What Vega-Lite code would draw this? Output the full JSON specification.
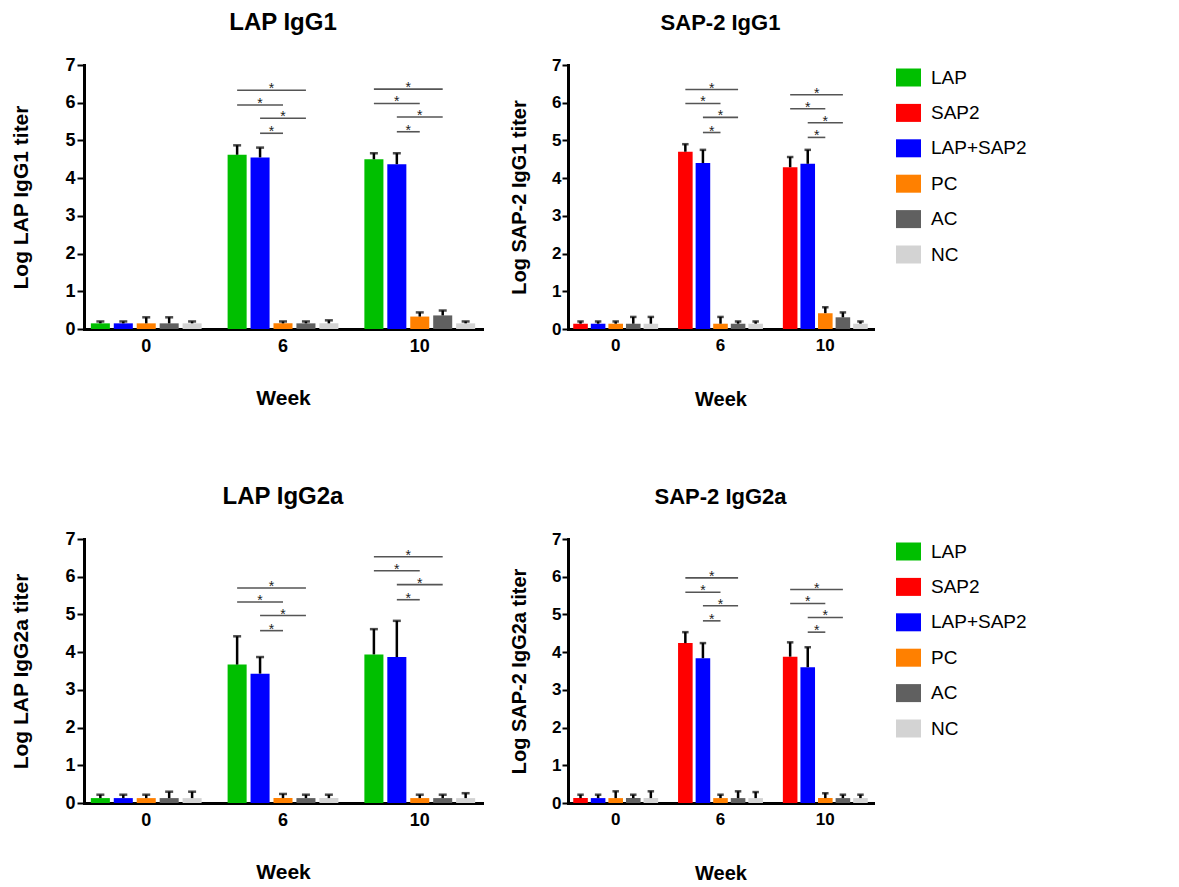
{
  "$schema": "https://vega.github.io/schema/vega-lite/v6.json",
  "padding": {"left": 10, "top": 11, "right": 5, "bottom": 5},
  "background": "white",
  "bounds": "flush",
  "columns": 2,
  "spacing": {"row": 210, "column": 86},
  "resolve": {"scale": {"color": "independent", "xOffset": "independent"}, "legend": {"color": "independent"}},
  "datasets": {
    "bars": [
      {"panel": "LAP IgG1", "week": "0", "group": "LAP", "mean": 0.15, "upper": 0.2},
      {"panel": "LAP IgG1", "week": "0", "group": "LAP+SAP2", "mean": 0.15, "upper": 0.2},
      {"panel": "LAP IgG1", "week": "0", "group": "PC", "mean": 0.15, "upper": 0.31},
      {"panel": "LAP IgG1", "week": "0", "group": "AC", "mean": 0.15, "upper": 0.31},
      {"panel": "LAP IgG1", "week": "0", "group": "NC", "mean": 0.15, "upper": 0.2},
      {"panel": "LAP IgG1", "week": "6", "group": "LAP", "mean": 4.62, "upper": 4.87},
      {"panel": "LAP IgG1", "week": "6", "group": "LAP+SAP2", "mean": 4.55, "upper": 4.81},
      {"panel": "LAP IgG1", "week": "6", "group": "PC", "mean": 0.15, "upper": 0.2},
      {"panel": "LAP IgG1", "week": "6", "group": "AC", "mean": 0.15, "upper": 0.2},
      {"panel": "LAP IgG1", "week": "6", "group": "NC", "mean": 0.15, "upper": 0.23},
      {"panel": "LAP IgG1", "week": "10", "group": "LAP", "mean": 4.5, "upper": 4.66},
      {"panel": "LAP IgG1", "week": "10", "group": "LAP+SAP2", "mean": 4.37, "upper": 4.66},
      {"panel": "LAP IgG1", "week": "10", "group": "PC", "mean": 0.33, "upper": 0.44},
      {"panel": "LAP IgG1", "week": "10", "group": "AC", "mean": 0.36, "upper": 0.49},
      {"panel": "LAP IgG1", "week": "10", "group": "NC", "mean": 0.15, "upper": 0.2},

      {"panel": "SAP-2 IgG1", "week": "0", "group": "SAP2", "mean": 0.14, "upper": 0.2},
      {"panel": "SAP-2 IgG1", "week": "0", "group": "LAP+SAP2", "mean": 0.14, "upper": 0.2},
      {"panel": "SAP-2 IgG1", "week": "0", "group": "PC", "mean": 0.14, "upper": 0.2},
      {"panel": "SAP-2 IgG1", "week": "0", "group": "AC", "mean": 0.14, "upper": 0.32},
      {"panel": "SAP-2 IgG1", "week": "0", "group": "NC", "mean": 0.14, "upper": 0.32},
      {"panel": "SAP-2 IgG1", "week": "6", "group": "SAP2", "mean": 4.7, "upper": 4.9},
      {"panel": "SAP-2 IgG1", "week": "6", "group": "LAP+SAP2", "mean": 4.4, "upper": 4.75},
      {"panel": "SAP-2 IgG1", "week": "6", "group": "PC", "mean": 0.14, "upper": 0.32},
      {"panel": "SAP-2 IgG1", "week": "6", "group": "AC", "mean": 0.14, "upper": 0.2},
      {"panel": "SAP-2 IgG1", "week": "6", "group": "NC", "mean": 0.14, "upper": 0.2},
      {"panel": "SAP-2 IgG1", "week": "10", "group": "SAP2", "mean": 4.29, "upper": 4.56},
      {"panel": "SAP-2 IgG1", "week": "10", "group": "LAP+SAP2", "mean": 4.38, "upper": 4.75},
      {"panel": "SAP-2 IgG1", "week": "10", "group": "PC", "mean": 0.42, "upper": 0.58},
      {"panel": "SAP-2 IgG1", "week": "10", "group": "AC", "mean": 0.31, "upper": 0.44},
      {"panel": "SAP-2 IgG1", "week": "10", "group": "NC", "mean": 0.14, "upper": 0.2},

      {"panel": "LAP IgG2a", "week": "0", "group": "LAP", "mean": 0.13, "upper": 0.22},
      {"panel": "LAP IgG2a", "week": "0", "group": "LAP+SAP2", "mean": 0.13, "upper": 0.22},
      {"panel": "LAP IgG2a", "week": "0", "group": "PC", "mean": 0.13, "upper": 0.22},
      {"panel": "LAP IgG2a", "week": "0", "group": "AC", "mean": 0.13, "upper": 0.3},
      {"panel": "LAP IgG2a", "week": "0", "group": "NC", "mean": 0.13, "upper": 0.3},
      {"panel": "LAP IgG2a", "week": "6", "group": "LAP", "mean": 3.67, "upper": 4.42},
      {"panel": "LAP IgG2a", "week": "6", "group": "LAP+SAP2", "mean": 3.43, "upper": 3.87},
      {"panel": "LAP IgG2a", "week": "6", "group": "PC", "mean": 0.13, "upper": 0.24},
      {"panel": "LAP IgG2a", "week": "6", "group": "AC", "mean": 0.13, "upper": 0.22},
      {"panel": "LAP IgG2a", "week": "6", "group": "NC", "mean": 0.13, "upper": 0.22},
      {"panel": "LAP IgG2a", "week": "10", "group": "LAP", "mean": 3.94, "upper": 4.61},
      {"panel": "LAP IgG2a", "week": "10", "group": "LAP+SAP2", "mean": 3.87, "upper": 4.83},
      {"panel": "LAP IgG2a", "week": "10", "group": "PC", "mean": 0.13, "upper": 0.22},
      {"panel": "LAP IgG2a", "week": "10", "group": "AC", "mean": 0.13, "upper": 0.22},
      {"panel": "LAP IgG2a", "week": "10", "group": "NC", "mean": 0.13, "upper": 0.26},

      {"panel": "SAP-2 IgG2a", "week": "0", "group": "SAP2", "mean": 0.13, "upper": 0.22},
      {"panel": "SAP-2 IgG2a", "week": "0", "group": "LAP+SAP2", "mean": 0.13, "upper": 0.22},
      {"panel": "SAP-2 IgG2a", "week": "0", "group": "PC", "mean": 0.13, "upper": 0.31},
      {"panel": "SAP-2 IgG2a", "week": "0", "group": "AC", "mean": 0.13, "upper": 0.22},
      {"panel": "SAP-2 IgG2a", "week": "0", "group": "NC", "mean": 0.13, "upper": 0.31},
      {"panel": "SAP-2 IgG2a", "week": "6", "group": "SAP2", "mean": 4.24, "upper": 4.53},
      {"panel": "SAP-2 IgG2a", "week": "6", "group": "LAP+SAP2", "mean": 3.84, "upper": 4.24},
      {"panel": "SAP-2 IgG2a", "week": "6", "group": "PC", "mean": 0.13, "upper": 0.22},
      {"panel": "SAP-2 IgG2a", "week": "6", "group": "AC", "mean": 0.13, "upper": 0.31},
      {"panel": "SAP-2 IgG2a", "week": "6", "group": "NC", "mean": 0.13, "upper": 0.29},
      {"panel": "SAP-2 IgG2a", "week": "10", "group": "SAP2", "mean": 3.88, "upper": 4.26},
      {"panel": "SAP-2 IgG2a", "week": "10", "group": "LAP+SAP2", "mean": 3.6, "upper": 4.13},
      {"panel": "SAP-2 IgG2a", "week": "10", "group": "PC", "mean": 0.13, "upper": 0.26},
      {"panel": "SAP-2 IgG2a", "week": "10", "group": "AC", "mean": 0.13, "upper": 0.22},
      {"panel": "SAP-2 IgG2a", "week": "10", "group": "NC", "mean": 0.13, "upper": 0.22}
    ],
    "brackets": [
      {"panel": "LAP IgG1", "week": "6", "from": "LAP", "to": "AC", "level": 6.33, "mid": "LAP+SAP2", "half": true},
      {"panel": "LAP IgG1", "week": "6", "from": "LAP", "to": "PC", "level": 5.94, "mid": "LAP+SAP2", "half": false},
      {"panel": "LAP IgG1", "week": "6", "from": "LAP+SAP2", "to": "AC", "level": 5.59, "mid": "PC", "half": false},
      {"panel": "LAP IgG1", "week": "6", "from": "LAP+SAP2", "to": "PC", "level": 5.19, "mid": "LAP+SAP2", "half": true},
      {"panel": "LAP IgG1", "week": "10", "from": "LAP", "to": "AC", "level": 6.36, "mid": "LAP+SAP2", "half": true},
      {"panel": "LAP IgG1", "week": "10", "from": "LAP", "to": "PC", "level": 5.98, "mid": "LAP+SAP2", "half": false},
      {"panel": "LAP IgG1", "week": "10", "from": "LAP+SAP2", "to": "AC", "level": 5.62, "mid": "PC", "half": false},
      {"panel": "LAP IgG1", "week": "10", "from": "LAP+SAP2", "to": "PC", "level": 5.23, "mid": "LAP+SAP2", "half": true},

      {"panel": "SAP-2 IgG1", "week": "6", "from": "SAP2", "to": "AC", "level": 6.35, "mid": "LAP+SAP2", "half": true},
      {"panel": "SAP-2 IgG1", "week": "6", "from": "SAP2", "to": "PC", "level": 5.98, "mid": "LAP+SAP2", "half": false},
      {"panel": "SAP-2 IgG1", "week": "6", "from": "LAP+SAP2", "to": "AC", "level": 5.61, "mid": "PC", "half": false},
      {"panel": "SAP-2 IgG1", "week": "6", "from": "LAP+SAP2", "to": "PC", "level": 5.21, "mid": "LAP+SAP2", "half": true},
      {"panel": "SAP-2 IgG1", "week": "10", "from": "SAP2", "to": "AC", "level": 6.21, "mid": "LAP+SAP2", "half": true},
      {"panel": "SAP-2 IgG1", "week": "10", "from": "SAP2", "to": "PC", "level": 5.84, "mid": "LAP+SAP2", "half": false},
      {"panel": "SAP-2 IgG1", "week": "10", "from": "LAP+SAP2", "to": "AC", "level": 5.47, "mid": "PC", "half": false},
      {"panel": "SAP-2 IgG1", "week": "10", "from": "LAP+SAP2", "to": "PC", "level": 5.08, "mid": "LAP+SAP2", "half": true},

      {"panel": "LAP IgG2a", "week": "6", "from": "LAP", "to": "AC", "level": 5.7, "mid": "LAP+SAP2", "half": true},
      {"panel": "LAP IgG2a", "week": "6", "from": "LAP", "to": "PC", "level": 5.33, "mid": "LAP+SAP2", "half": false},
      {"panel": "LAP IgG2a", "week": "6", "from": "LAP+SAP2", "to": "AC", "level": 4.97, "mid": "PC", "half": false},
      {"panel": "LAP IgG2a", "week": "6", "from": "LAP+SAP2", "to": "PC", "level": 4.57, "mid": "LAP+SAP2", "half": true},
      {"panel": "LAP IgG2a", "week": "10", "from": "LAP", "to": "AC", "level": 6.53, "mid": "LAP+SAP2", "half": true},
      {"panel": "LAP IgG2a", "week": "10", "from": "LAP", "to": "PC", "level": 6.16, "mid": "LAP+SAP2", "half": false},
      {"panel": "LAP IgG2a", "week": "10", "from": "LAP+SAP2", "to": "AC", "level": 5.79, "mid": "PC", "half": false},
      {"panel": "LAP IgG2a", "week": "10", "from": "LAP+SAP2", "to": "PC", "level": 5.39, "mid": "LAP+SAP2", "half": true},

      {"panel": "SAP-2 IgG2a", "week": "6", "from": "SAP2", "to": "AC", "level": 5.97, "mid": "LAP+SAP2", "half": true},
      {"panel": "SAP-2 IgG2a", "week": "6", "from": "SAP2", "to": "PC", "level": 5.59, "mid": "LAP+SAP2", "half": false},
      {"panel": "SAP-2 IgG2a", "week": "6", "from": "LAP+SAP2", "to": "AC", "level": 5.23, "mid": "PC", "half": false},
      {"panel": "SAP-2 IgG2a", "week": "6", "from": "LAP+SAP2", "to": "PC", "level": 4.83, "mid": "LAP+SAP2", "half": true},
      {"panel": "SAP-2 IgG2a", "week": "10", "from": "SAP2", "to": "AC", "level": 5.66, "mid": "LAP+SAP2", "half": true},
      {"panel": "SAP-2 IgG2a", "week": "10", "from": "SAP2", "to": "PC", "level": 5.29, "mid": "LAP+SAP2", "half": false},
      {"panel": "SAP-2 IgG2a", "week": "10", "from": "LAP+SAP2", "to": "AC", "level": 4.92, "mid": "PC", "half": false},
      {"panel": "SAP-2 IgG2a", "week": "10", "from": "LAP+SAP2", "to": "PC", "level": 4.53, "mid": "LAP+SAP2", "half": true}
    ]
  },
  "concat": [
    {
      "width": 398, "height": 264,
      "title": {"text": "LAP IgG1"},
      "encoding": {
        "x": {"field": "week", "type": "ordinal", "sort": ["0", "6", "10"], "title": "Week", "scale": {"paddingInner": 0.19, "paddingOuter": 0.05}}
      },
      "layer": [
        {"data": {"name": "bars"}, "transform": [{"filter": "datum.panel === 'LAP IgG1'"}],
         "mark": {"type": "bar"},
         "encoding": {
           "xOffset": {"field": "group", "type": "nominal", "scale": {"domain": ["LAP", "LAP+SAP2", "PC", "AC", "NC"], "paddingInner": 0.17, "paddingOuter": 0}},
           "y": {"field": "mean", "type": "quantitative", "title": "Log LAP IgG1 titer", "scale": {"domain": [0, 7], "nice": false}},
           "color": {"field": "group", "type": "nominal", "scale": {"domain": ["LAP", "SAP2", "LAP+SAP2", "PC", "AC", "NC"], "range": ["#00bf00", "#ff0000", "#0000ff", "#ff8000", "#606060", "#d3d3d3"]}, "legend": null}
         }},
        {"data": {"name": "bars"}, "transform": [{"filter": "datum.panel === 'LAP IgG1'"}],
         "mark": {"type": "rule", "color": "#000000", "strokeWidth": 2.5},
         "encoding": {
           "xOffset": {"field": "group", "type": "nominal", "scale": {"domain": ["LAP", "LAP+SAP2", "PC", "AC", "NC"]}},
           "y": {"field": "mean", "type": "quantitative", "title": "Log LAP IgG1 titer"}, "y2": {"field": "upper"}}},
        {"data": {"name": "bars"}, "transform": [{"filter": "datum.panel === 'LAP IgG1'"}],
         "mark": {"type": "tick", "color": "#000000", "thickness": 2.5, "size": 8, "orient": "horizontal"},
         "encoding": {
           "xOffset": {"field": "group", "type": "nominal", "scale": {"domain": ["LAP", "LAP+SAP2", "PC", "AC", "NC"]}},
           "y": {"field": "upper", "type": "quantitative", "title": "Log LAP IgG1 titer"}}},
        {"data": {"name": "brackets"}, "transform": [{"filter": "datum.panel === 'LAP IgG1'"}, {"fold": ["from", "to"], "as": ["end", "group"]}],
         "mark": {"type": "line", "color": "#555555", "strokeWidth": 1.6},
         "encoding": {
           "xOffset": {"field": "group", "type": "nominal", "scale": {"domain": ["LAP", "LAP+SAP2", "PC", "AC", "NC"]}},
           "y": {"field": "level", "type": "quantitative", "title": "Log LAP IgG1 titer"}, "detail": [{"field": "week"}, {"field": "level"}]}},
        {"data": {"name": "brackets"}, "transform": [{"filter": "datum.panel === 'LAP IgG1' && !datum.half"}],
         "mark": {"type": "text", "text": "*", "fontSize": 14, "baseline": "alphabetic", "dy": 3, "color": "#222222"},
         "encoding": {
           "xOffset": {"field": "mid", "type": "nominal", "scale": {"domain": ["LAP", "LAP+SAP2", "PC", "AC", "NC"]}},
           "y": {"field": "level", "type": "quantitative", "title": "Log LAP IgG1 titer"}}},
        {"data": {"name": "brackets"}, "transform": [{"filter": "datum.panel === 'LAP IgG1' && datum.half"}],
         "mark": {"type": "text", "text": "*", "fontSize": 14, "baseline": "alphabetic", "dy": 3, "dx": 11.4, "color": "#222222"},
         "encoding": {
           "xOffset": {"field": "mid", "type": "nominal", "scale": {"domain": ["LAP", "LAP+SAP2", "PC", "AC", "NC"]}},
           "y": {"field": "level", "type": "quantitative", "title": "Log LAP IgG1 titer"}}}
      ]
    },
    {
      "width": 305, "height": 264,
      "title": {"text": "SAP-2 IgG1", "fontSize": 22},
      "encoding": {
        "x": {"field": "week", "type": "ordinal", "sort": ["0", "6", "10"], "title": "Week", "scale": {"paddingInner": 0.19, "paddingOuter": 0.05}, "axis": {"labelFontSize": 17, "titleFontSize": 20, "titlePadding": 36}}
      },
      "layer": [
        {"data": {"name": "bars"}, "transform": [{"filter": "datum.panel === 'SAP-2 IgG1'"}],
         "mark": {"type": "bar"},
         "encoding": {
           "xOffset": {"field": "group", "type": "nominal", "scale": {"domain": ["SAP2", "LAP+SAP2", "PC", "AC", "NC"], "paddingInner": 0.17, "paddingOuter": 0}},
           "y": {"field": "mean", "type": "quantitative", "title": "Log SAP-2 IgG1 titer", "scale": {"domain": [0, 7], "nice": false}, "axis": {"labelFontSize": 17, "titleFontSize": 20, "tickSize": 6, "labelPadding": 1, "titlePadding": 22}},
           "color": {"field": "group", "type": "nominal", "scale": {"domain": ["LAP", "SAP2", "LAP+SAP2", "PC", "AC", "NC"], "range": ["#00bf00", "#ff0000", "#0000ff", "#ff8000", "#606060", "#d3d3d3"]},
             "legend": {"title": null, "offset": 23, "symbolType": "M-1,-0.72H1V0.72H-1Z", "symbolSize": 625, "symbolStrokeWidth": 0, "labelFontSize": 19, "labelColor": "#000000", "labelOffset": 10, "rowPadding": 12.4, "padding": 0}}
         }},
        {"data": {"name": "bars"}, "transform": [{"filter": "datum.panel === 'SAP-2 IgG1'"}],
         "mark": {"type": "rule", "color": "#000000", "strokeWidth": 2.5},
         "encoding": {
           "xOffset": {"field": "group", "type": "nominal", "scale": {"domain": ["SAP2", "LAP+SAP2", "PC", "AC", "NC"]}},
           "y": {"field": "mean", "type": "quantitative", "title": "Log SAP-2 IgG1 titer"}, "y2": {"field": "upper"}}},
        {"data": {"name": "bars"}, "transform": [{"filter": "datum.panel === 'SAP-2 IgG1'"}],
         "mark": {"type": "tick", "color": "#000000", "thickness": 2.5, "size": 6.5, "orient": "horizontal"},
         "encoding": {
           "xOffset": {"field": "group", "type": "nominal", "scale": {"domain": ["SAP2", "LAP+SAP2", "PC", "AC", "NC"]}},
           "y": {"field": "upper", "type": "quantitative", "title": "Log SAP-2 IgG1 titer"}}},
        {"data": {"name": "brackets"}, "transform": [{"filter": "datum.panel === 'SAP-2 IgG1'"}, {"fold": ["from", "to"], "as": ["end", "group"]}],
         "mark": {"type": "line", "color": "#555555", "strokeWidth": 1.6},
         "encoding": {
           "xOffset": {"field": "group", "type": "nominal", "scale": {"domain": ["SAP2", "LAP+SAP2", "PC", "AC", "NC"]}},
           "y": {"field": "level", "type": "quantitative", "title": "Log SAP-2 IgG1 titer"}, "detail": [{"field": "week"}, {"field": "level"}]}},
        {"data": {"name": "brackets"}, "transform": [{"filter": "datum.panel === 'SAP-2 IgG1' && !datum.half"}],
         "mark": {"type": "text", "text": "*", "fontSize": 14, "baseline": "alphabetic", "dy": 3, "color": "#222222"},
         "encoding": {
           "xOffset": {"field": "mid", "type": "nominal", "scale": {"domain": ["SAP2", "LAP+SAP2", "PC", "AC", "NC"]}},
           "y": {"field": "level", "type": "quantitative", "title": "Log SAP-2 IgG1 titer"}}},
        {"data": {"name": "brackets"}, "transform": [{"filter": "datum.panel === 'SAP-2 IgG1' && datum.half"}],
         "mark": {"type": "text", "text": "*", "fontSize": 14, "baseline": "alphabetic", "dy": 3, "dx": 8.9, "color": "#222222"},
         "encoding": {
           "xOffset": {"field": "mid", "type": "nominal", "scale": {"domain": ["SAP2", "LAP+SAP2", "PC", "AC", "NC"]}},
           "y": {"field": "level", "type": "quantitative", "title": "Log SAP-2 IgG1 titer"}}}
      ]
    },
    {
      "width": 398, "height": 264,
      "title": {"text": "LAP IgG2a"},
      "encoding": {
        "x": {"field": "week", "type": "ordinal", "sort": ["0", "6", "10"], "title": "Week", "scale": {"paddingInner": 0.19, "paddingOuter": 0.05}}
      },
      "layer": [
        {"data": {"name": "bars"}, "transform": [{"filter": "datum.panel === 'LAP IgG2a'"}],
         "mark": {"type": "bar"},
         "encoding": {
           "xOffset": {"field": "group", "type": "nominal", "scale": {"domain": ["LAP", "LAP+SAP2", "PC", "AC", "NC"], "paddingInner": 0.17, "paddingOuter": 0}},
           "y": {"field": "mean", "type": "quantitative", "title": "Log LAP IgG2a titer", "scale": {"domain": [0, 7], "nice": false}},
           "color": {"field": "group", "type": "nominal", "scale": {"domain": ["LAP", "SAP2", "LAP+SAP2", "PC", "AC", "NC"], "range": ["#00bf00", "#ff0000", "#0000ff", "#ff8000", "#606060", "#d3d3d3"]}, "legend": null}
         }},
        {"data": {"name": "bars"}, "transform": [{"filter": "datum.panel === 'LAP IgG2a'"}],
         "mark": {"type": "rule", "color": "#000000", "strokeWidth": 2.5},
         "encoding": {
           "xOffset": {"field": "group", "type": "nominal", "scale": {"domain": ["LAP", "LAP+SAP2", "PC", "AC", "NC"]}},
           "y": {"field": "mean", "type": "quantitative", "title": "Log LAP IgG2a titer"}, "y2": {"field": "upper"}}},
        {"data": {"name": "bars"}, "transform": [{"filter": "datum.panel === 'LAP IgG2a'"}],
         "mark": {"type": "tick", "color": "#000000", "thickness": 2.5, "size": 8, "orient": "horizontal"},
         "encoding": {
           "xOffset": {"field": "group", "type": "nominal", "scale": {"domain": ["LAP", "LAP+SAP2", "PC", "AC", "NC"]}},
           "y": {"field": "upper", "type": "quantitative", "title": "Log LAP IgG2a titer"}}},
        {"data": {"name": "brackets"}, "transform": [{"filter": "datum.panel === 'LAP IgG2a'"}, {"fold": ["from", "to"], "as": ["end", "group"]}],
         "mark": {"type": "line", "color": "#555555", "strokeWidth": 1.6},
         "encoding": {
           "xOffset": {"field": "group", "type": "nominal", "scale": {"domain": ["LAP", "LAP+SAP2", "PC", "AC", "NC"]}},
           "y": {"field": "level", "type": "quantitative", "title": "Log LAP IgG2a titer"}, "detail": [{"field": "week"}, {"field": "level"}]}},
        {"data": {"name": "brackets"}, "transform": [{"filter": "datum.panel === 'LAP IgG2a' && !datum.half"}],
         "mark": {"type": "text", "text": "*", "fontSize": 14, "baseline": "alphabetic", "dy": 3, "color": "#222222"},
         "encoding": {
           "xOffset": {"field": "mid", "type": "nominal", "scale": {"domain": ["LAP", "LAP+SAP2", "PC", "AC", "NC"]}},
           "y": {"field": "level", "type": "quantitative", "title": "Log LAP IgG2a titer"}}},
        {"data": {"name": "brackets"}, "transform": [{"filter": "datum.panel === 'LAP IgG2a' && datum.half"}],
         "mark": {"type": "text", "text": "*", "fontSize": 14, "baseline": "alphabetic", "dy": 3, "dx": 11.4, "color": "#222222"},
         "encoding": {
           "xOffset": {"field": "mid", "type": "nominal", "scale": {"domain": ["LAP", "LAP+SAP2", "PC", "AC", "NC"]}},
           "y": {"field": "level", "type": "quantitative", "title": "Log LAP IgG2a titer"}}}
      ]
    },
    {
      "width": 305, "height": 264,
      "title": {"text": "SAP-2 IgG2a", "fontSize": 22},
      "encoding": {
        "x": {"field": "week", "type": "ordinal", "sort": ["0", "6", "10"], "title": "Week", "scale": {"paddingInner": 0.19, "paddingOuter": 0.05}, "axis": {"labelFontSize": 17, "titleFontSize": 20, "titlePadding": 36}}
      },
      "layer": [
        {"data": {"name": "bars"}, "transform": [{"filter": "datum.panel === 'SAP-2 IgG2a'"}],
         "mark": {"type": "bar"},
         "encoding": {
           "xOffset": {"field": "group", "type": "nominal", "scale": {"domain": ["SAP2", "LAP+SAP2", "PC", "AC", "NC"], "paddingInner": 0.17, "paddingOuter": 0}},
           "y": {"field": "mean", "type": "quantitative", "title": "Log SAP-2 IgG2a titer", "scale": {"domain": [0, 7], "nice": false}, "axis": {"labelFontSize": 17, "titleFontSize": 20, "tickSize": 6, "labelPadding": 1, "titlePadding": 22}},
           "color": {"field": "group", "type": "nominal", "scale": {"domain": ["LAP", "SAP2", "LAP+SAP2", "PC", "AC", "NC"], "range": ["#00bf00", "#ff0000", "#0000ff", "#ff8000", "#606060", "#d3d3d3"]},
             "legend": {"title": null, "offset": 23, "symbolType": "M-1,-0.72H1V0.72H-1Z", "symbolSize": 625, "symbolStrokeWidth": 0, "labelFontSize": 19, "labelColor": "#000000", "labelOffset": 10, "rowPadding": 12.4, "padding": 0}}
         }},
        {"data": {"name": "bars"}, "transform": [{"filter": "datum.panel === 'SAP-2 IgG2a'"}],
         "mark": {"type": "rule", "color": "#000000", "strokeWidth": 2.5},
         "encoding": {
           "xOffset": {"field": "group", "type": "nominal", "scale": {"domain": ["SAP2", "LAP+SAP2", "PC", "AC", "NC"]}},
           "y": {"field": "mean", "type": "quantitative", "title": "Log SAP-2 IgG2a titer"}, "y2": {"field": "upper"}}},
        {"data": {"name": "bars"}, "transform": [{"filter": "datum.panel === 'SAP-2 IgG2a'"}],
         "mark": {"type": "tick", "color": "#000000", "thickness": 2.5, "size": 6.5, "orient": "horizontal"},
         "encoding": {
           "xOffset": {"field": "group", "type": "nominal", "scale": {"domain": ["SAP2", "LAP+SAP2", "PC", "AC", "NC"]}},
           "y": {"field": "upper", "type": "quantitative", "title": "Log SAP-2 IgG2a titer"}}},
        {"data": {"name": "brackets"}, "transform": [{"filter": "datum.panel === 'SAP-2 IgG2a'"}, {"fold": ["from", "to"], "as": ["end", "group"]}],
         "mark": {"type": "line", "color": "#555555", "strokeWidth": 1.6},
         "encoding": {
           "xOffset": {"field": "group", "type": "nominal", "scale": {"domain": ["SAP2", "LAP+SAP2", "PC", "AC", "NC"]}},
           "y": {"field": "level", "type": "quantitative", "title": "Log SAP-2 IgG2a titer"}, "detail": [{"field": "week"}, {"field": "level"}]}},
        {"data": {"name": "brackets"}, "transform": [{"filter": "datum.panel === 'SAP-2 IgG2a' && !datum.half"}],
         "mark": {"type": "text", "text": "*", "fontSize": 14, "baseline": "alphabetic", "dy": 3, "color": "#222222"},
         "encoding": {
           "xOffset": {"field": "mid", "type": "nominal", "scale": {"domain": ["SAP2", "LAP+SAP2", "PC", "AC", "NC"]}},
           "y": {"field": "level", "type": "quantitative", "title": "Log SAP-2 IgG2a titer"}}},
        {"data": {"name": "brackets"}, "transform": [{"filter": "datum.panel === 'SAP-2 IgG2a' && datum.half"}],
         "mark": {"type": "text", "text": "*", "fontSize": 14, "baseline": "alphabetic", "dy": 3, "dx": 8.9, "color": "#222222"},
         "encoding": {
           "xOffset": {"field": "mid", "type": "nominal", "scale": {"domain": ["SAP2", "LAP+SAP2", "PC", "AC", "NC"]}},
           "y": {"field": "level", "type": "quantitative", "title": "Log SAP-2 IgG2a titer"}}}
      ]
    }
  ],
  "config": {
    "font": "Liberation Sans",
    "view": {"stroke": null},
    "axis": {"domainColor": "#000000", "domainWidth": 3, "domainCap": "square", "tickColor": "#000000", "tickWidth": 2, "labelColor": "#000000", "titleColor": "#000000", "labelFontWeight": "bold", "titleFontWeight": "bold", "labelFontSize": 18, "titleFontSize": 21, "grid": false, "labelFont": "Liberation Sans", "titleFont": "Liberation Sans"},
    "axisX": {"ticks": false, "tickSize": 0, "labelAngle": 0, "labelPadding": 8, "titlePadding": 32},
    "axisY": {"tickSize": 7, "labelPadding": 2, "titlePadding": 33, "tickCount": 7, "labelOverlap": false},
    "title": {"fontSize": 24, "fontWeight": "bold", "color": "#000000", "anchor": "middle", "frame": "group", "offset": 21, "font": "Liberation Sans"}
  }
}
